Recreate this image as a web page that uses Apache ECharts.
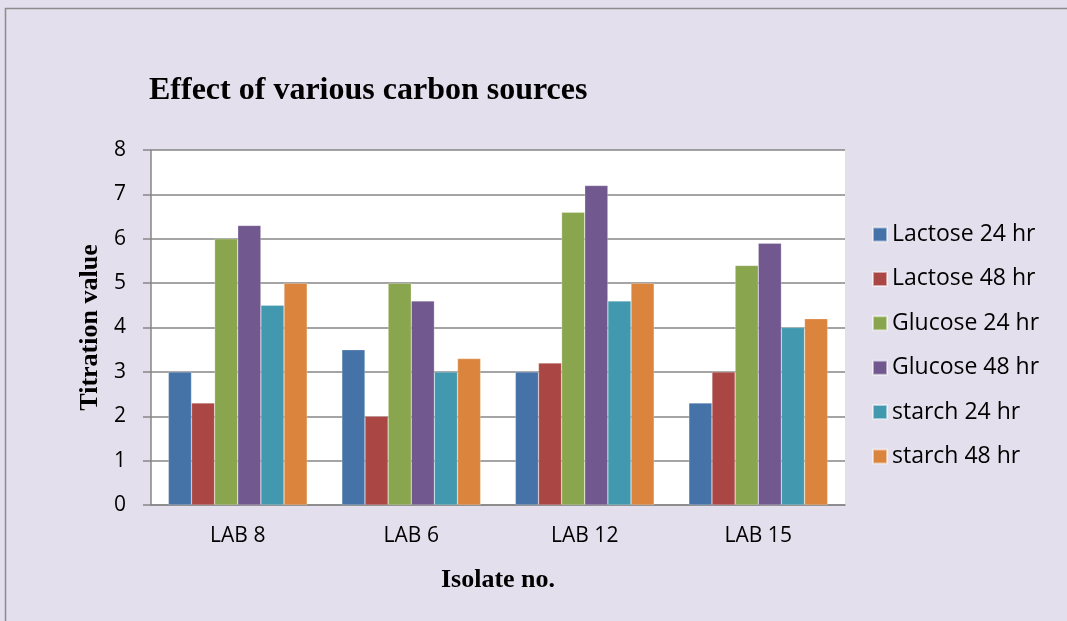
<!DOCTYPE html>
<html>
<head>
<meta charset="utf-8">
<script src="https://cdn.jsdelivr.net/npm/echarts@6/dist/echarts.min.js"></script>
<style>
  html, body { margin: 0; padding: 0; background: #E4DFEC; }
  #main { width: 1067px; height: 621px; }
</style>
</head>
<body>
<div id="main"></div>
<script>
var isolates = ['LAB 8', 'LAB 6', 'LAB 12', 'LAB 15'];
var seriesNames = ['Lactose 24 hr', 'Lactose 48 hr', 'Glucose 24 hr', 'Glucose 48 hr', 'starch 24 hr', 'starch 48 hr'];
var lactose24 = [3, 3.5, 3, 2.3];
var lactose48 = [2.3, 2, 3.2, 3];
var glucose24 = [6, 5, 6.6, 5.4];
var glucose48 = [6.3, 4.6, 7.2, 5.9];
var starch24 = [4.5, 3, 4.6, 4];
var starch48 = [5, 3.3, 5, 4.2];
var yTicks = [0, 1, 2, 3, 4, 5, 6, 7, 8];

var colors = ['#4572A7', '#AA4643', '#89A54E', '#71588F', '#4198AF', '#DB843D'];
var values = [lactose24, lactose48, glucose24, glucose48, starch24, starch48];

var myChart = echarts.init(document.getElementById('main'));
myChart.setOption({
    backgroundColor: '#E4DFEC',
    animation: false,
    color: colors,
    graphic: [
        {
            type: 'rect',
            shape: { x: 5.5, y: 8.5, width: 1200, height: 800 },
            style: { fill: 'none', stroke: '#8C8C8C', lineWidth: 1.5 },
            silent: true
        }
    ],
    title: {
        text: 'Effect of various carbon sources',
        left: 144,
        top: 70,
        textStyle: {
            fontFamily: 'Liberation Serif',
            fontWeight: 'bold',
            fontSize: 32,
            color: '#000'
        }
    },
    legend: {
        orient: 'vertical',
        left: 867,
        top: 218,
        itemWidth: 14,
        itemHeight: 14,
        itemGap: 21.4,
        icon: 'rect',
        textStyle: { fontFamily: 'Open Sans', fontSize: 23, color: '#000', lineHeight: 22 },
        data: seriesNames
    },
    grid: {
        left: 151,
        right: 222,
        top: 150,
        bottom: 116,
        show: true,
        backgroundColor: '#fff',
        borderWidth: 0
    },
    xAxis: {
        type: 'category',
        data: isolates,
        name: 'Isolate no.',
        nameLocation: 'middle',
        nameGap: 62,
        nameTextStyle: { fontFamily: 'Liberation Serif', fontWeight: 'bold', fontSize: 26, color: '#000' },
        axisLine: { lineStyle: { color: '#868686', width: 1.5 } },
        axisTick: { show: false },
        axisLabel: { fontFamily: 'Open Sans', fontSize: 21, color: '#000', margin: 21 }
    },
    yAxis: {
        type: 'value',
        min: yTicks[0],
        max: yTicks[yTicks.length - 1],
        interval: 1,
        name: 'Titration value',
        nameLocation: 'middle',
        nameGap: 48,
        nameTextStyle: { fontFamily: 'Liberation Serif', fontWeight: 'bold', fontSize: 26, color: '#000' },
        axisLine: { show: true, lineStyle: { color: '#868686', width: 1.5 } },
        axisTick: { show: true, length: 8, lineStyle: { color: '#868686', width: 1.5 } },
        axisLabel: { fontFamily: 'Open Sans', fontSize: 21, color: '#000', margin: 25 },
        splitLine: { lineStyle: { color: '#868686', width: 1.5 } }
    },
    series: seriesNames.map(function (name, i) {
        return {
            name: name,
            type: 'bar',
            data: values[i],
            barGap: '0%',
            barCategoryGap: '20%',
            itemStyle: { borderColor: 'rgba(255,255,255,0.5)', borderWidth: 0.5 }
        };
    })
});
</script>
</body>
</html>
